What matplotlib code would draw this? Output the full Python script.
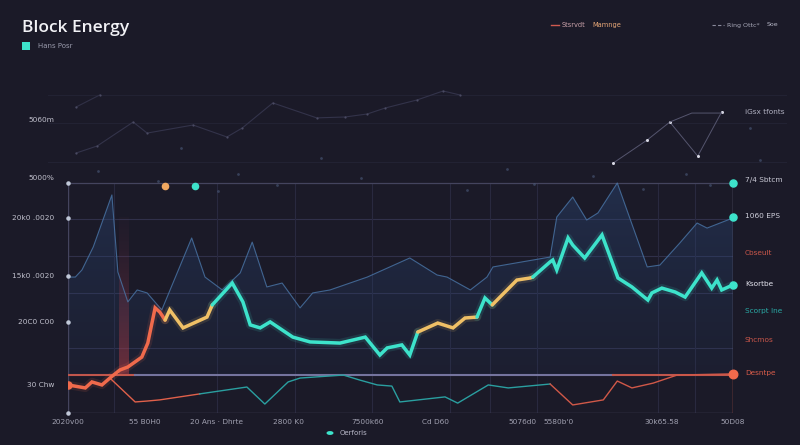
import numpy as np
import matplotlib
matplotlib.use("Agg")
import matplotlib.pyplot as plt
from matplotlib.patches import PathPatch
from matplotlib.colors import LinearSegmentedColormap
import matplotlib.transforms as mtransforms

# ---- data (x: 0..100 across the panel, y: value units, baseline at 16.5) ----
red_x = [0, 2.6, 3.6, 5.1, 6.3, 7.8, 9.0, 11.1, 12.0, 13.1, 13.8, 14.6]
red_y = [12.2, 10.9, 13.5, 12.2, 15.2, 18.7, 20.0, 24.3, 30.4, 45.7, 43.9, 40.4]

gold1_x = [14.6, 15.3, 17.3, 20.9, 21.7]
gold1_y = [40.4, 44.8, 37.0, 41.7, 47.0]

teal1_x = [21.7, 24.7, 26.3, 27.4, 28.9, 30.4, 33.8, 36.4, 40.9, 44.7, 46.9, 48.0, 50.2, 51.4, 52.6]
teal1_y = [47.0, 56.5, 48.3, 38.3, 37.0, 39.6, 33.0, 30.9, 30.4, 33.0, 25.2, 28.3, 29.6, 25.2, 35.2]

gold2_x = [52.6, 55.6, 57.9, 59.7, 61.5]
gold2_y = [35.2, 39.1, 37.0, 41.3, 41.7]

teal2_x = [61.5, 62.7, 63.8]
teal2_y = [41.7, 50.0, 47.0]

gold3_x = [63.8, 67.5, 69.5, 69.9]
gold3_y = [47.0, 57.8, 58.7, 59.1]

teal3_x = [69.9, 72.5, 72.9, 73.5, 75.2, 75.9, 77.7, 80.3, 82.7, 84.8, 87.2, 87.8, 89.3, 91.3, 92.8, 95.3, 96.8, 97.6, 98.3, 100]
teal3_y = [59.1, 65.7, 66.5, 62.2, 76.1, 73.0, 67.4, 77.4, 58.7, 54.8, 49.1, 52.2, 54.3, 52.6, 50.4, 60.9, 54.3, 57.8, 53.5, 55.7]

ridge_x = [0, 1.1, 2.1, 3.8, 6.6, 7.5, 9.0, 10.4, 11.9, 14.1, 18.6, 20.6, 23.2, 25.9, 27.7, 29.9, 32.2,
           34.9, 36.8, 39.4, 45.0, 51.4, 55.5, 57.0, 60.5, 63.0, 63.9, 72.5, 73.5, 75.9, 78.0, 79.7,
           82.6, 84.2, 87.1, 89.0, 92.0, 94.6, 96.1, 100]
ridge_y = [59.1, 59.1, 62.2, 72.2, 94.8, 61.3, 48.3, 53.5, 52.2, 44.8, 76.1, 59.1, 53.5, 60.9, 74.3, 54.8, 56.5,
           45.7, 52.2, 53.5, 59.1, 67.4, 60.0, 59.1, 53.5, 59.1, 63.5, 67.8, 85.2, 93.9, 83.9, 87.0,
           100.0, 87.0, 63.5, 64.3, 73.9, 82.6, 80.4, 84.8]

low_red1_x = [6.3, 10.1, 11.9, 13.8, 16.8, 19.8]
low_red1_y = [15.2, 4.8, 5.2, 5.7, 7.0, 8.3]
low_teal_x = [19.8, 26.9, 29.6, 33.1, 34.9, 41.4, 43.9, 46.5, 48.7, 49.9, 56.7, 58.6, 63.2, 66.2, 72.5]
low_teal_y = [8.3, 11.3, 3.9, 13.5, 15.2, 16.5, 14.3, 12.2, 11.7, 4.8, 7.0, 4.3, 12.2, 10.9, 12.6]
low_red2_x = [72.5, 75.9, 80.5, 82.6, 84.8, 88.0, 91.6, 100]
low_red2_y = [12.6, 3.5, 5.7, 13.9, 10.9, 13.0, 16.5, 17.0]

upper_a_x = [1.2, 4.4, 9.8, 11.9, 18.8, 23.9, 26.2, 30.8, 37.4, 41.7, 45.0, 47.7, 52.5, 56.4, 58.9]
upper_a_y = [113.0, 116.1, 126.5, 121.7, 125.2, 120.0, 123.9, 134.8, 128.3, 128.7, 130.0, 132.6, 136.1, 140.0, 138.3]
upper_b_x = [82.0, 87.1, 90.5, 94.7, 98.3]
upper_b_y = [108.7, 118.7, 126.5, 111.7, 130.9]
upper_c_x = [90.5, 93.8, 98.3]
upper_c_y = [126.5, 130.4, 130.4]
upper_d_x = [1.2, 4.8]
upper_d_y = [133.0, 138.3]

dust_x = [4.5, 13.5, 17.0, 22.5, 25.5, 31.5, 38.0, 44.0, 60.0, 66.0, 70.0, 79.0, 86.5, 93.0, 96.5, 102.5, 104.0]
dust_y = [105.0, 101.0, 115.0, 96.5, 104.0, 99.0, 111.0, 102.0, 97.0, 106.0, 99.5, 103.0, 97.5, 104.0, 99.0, 124.0, 110.0]

ytick_vals = [127.4, 102.6, 85.2, 59.6, 39.6, 12.6]
ytick_labels = ["5060m", "5000%", "20k0 .0020", "15k0 .0020", "20C0 C00", "30 Chw"]
xtick_vals = [0, 11.6, 22.3, 33.1, 45.1, 55.2, 68.3, 73.8, 89.3, 100]
xtick_labels = ["2020v00", "55 B0H0", "20 Ans · Dhrte", "2800 K0", "7500k60", "Cd D60",
                "5076d0", "5580b'0", "30k65.58", "50D08"]
right_vals = [130.9, 101.3, 85.7, 69.6, 56.1, 44.3, 31.7, 17.4]
right_labels = ["iGsx tfonts", "7/4 Sbtcm", "1060 EPS", "Cbseult", "Ksortbe", "Scorpt Ine", "Shcmos", "Desntpe"]
right_colors = ["#b0b0c0", "#c8c8d4", "#d0d0dc", "#c8564a", "#e4e4ee", "#2aa8a4", "#c8564a", "#d85c4a"]

grid_y = [84.3, 68.3, 52.2, 28.3]
grid_x = [6.9, 22.4, 34.1, 45.7, 57.4, 63.5, 70.5, 88.7, 94.3]
upper_grid_y = [138.3, 126.1, 109.1]

BG = "#1b1a28"
TEAL = "#3de3cb"
GOLD = "#f0c066"
RED = "#f06a4c"

fig = plt.figure(figsize=(8, 4.45), dpi=100, facecolor=BG)
ax = fig.add_axes([68 / 800, 1 - 413 / 445, 665 / 800, 328 / 445])
ax.set_facecolor(BG)
for s in ax.spines.values():
    s.set_visible(False)

# grid
for gy in grid_y:
    ax.axhline(gy, xmin=0, xmax=1, color="#30304a", lw=0.8, zorder=0)
for gx in grid_x:
    ax.plot([gx, gx], [0, 100], color="#29293f", lw=0.8, zorder=0)
for gy in upper_grid_y:
    ax.axhline(gy, xmin=-0.03, xmax=1.08, color="#222233", lw=0.8, zorder=0, clip_on=False)

# frame lines
ax.axhline(100, color="#44445e", lw=0.9, zorder=2)
ax.axhline(0, color="#44445c", lw=1.0, zorder=2)
ax.plot([0, 0], [0, 100], color="#44445e", lw=1.0, zorder=2)
ax.plot([100, 100], [16.5, 100], color="#72728e", lw=1.0, zorder=2)
ax.plot([100, 100], [0, 16.5], color="#c85848", lw=1.0, zorder=2)
ax.plot([0, 10], [16.5, 16.5], color="#c0564c", lw=1.5, zorder=3)
ax.plot([10, 82], [16.5, 16.5], color="#75749e", lw=1.5, zorder=3)
ax.plot([82, 100], [16.5, 16.5], color="#c0564c", lw=1.5, zorder=3)

# gradient area under the ridge line
base = 16.5
poly = ax.fill_between(ridge_x, ridge_y, base, color="none")
clip = PathPatch(poly.get_paths()[0], transform=ax.transData, facecolor="none", edgecolor="none")
ax.add_patch(clip)
cmap = LinearSegmentedColormap.from_list("g", [(0.14, 0.25, 0.42, 0.12), (0.18, 0.30, 0.50, 0.40)])
grad = np.linspace(0, 1, 256).reshape(-1, 1)
im = ax.imshow(grad, extent=[0, 100, base, 100], origin="lower", aspect="auto", cmap=cmap, zorder=1)
im.set_clip_path(clip)

# red highlight band
rmap = LinearSegmentedColormap.from_list("r", [(0.75, 0.25, 0.28, 0.5), (0.45, 0.2, 0.3, 0.05)])
ax.imshow(grad, extent=[7.6, 9.1, base, 85], origin="lower", aspect="auto", cmap=rmap, zorder=1)

# ridge and faint upper lines
ax.plot(ridge_x, ridge_y, color="#4a76a8", lw=0.8, alpha=0.8, zorder=3)
ax.plot(upper_a_x, upper_a_y, color="#33334a", lw=0.8, marker="o", ms=1.6, mfc="#4a4a62", mec="none", zorder=2, clip_on=False)
ax.plot(upper_d_x, upper_d_y, color="#303046", lw=0.8, marker="o", ms=1.6, mfc="#4a4a62", mec="none", zorder=2, clip_on=False)
ax.plot(upper_b_x, upper_b_y, color="#55556e", lw=0.7, marker="o", ms=2.2, mfc="#d8d8e4", mec="none", zorder=2)
ax.plot(upper_c_x, upper_c_y, color="#55556e", lw=0.7, zorder=2)
ax.scatter(dust_x, dust_y, s=4, color="#4a5a7a", alpha=0.6, zorder=2, clip_on=False, lw=0)

# lower thin lines
ax.plot(low_red1_x, low_red1_y, color="#e0604a", lw=1.0, zorder=3)
ax.plot(low_teal_x, low_teal_y, color="#2a9fa0", lw=1.0, zorder=3)
ax.plot(low_red2_x, low_red2_y, color="#d05848", lw=1.0, zorder=3)

# main thick line with glow
for xs, ys, c in [(red_x, red_y, RED), (gold1_x, gold1_y, GOLD), (teal1_x, teal1_y, TEAL),
                  (gold2_x, gold2_y, GOLD), (teal2_x, teal2_y, TEAL), (gold3_x, gold3_y, GOLD),
                  (teal3_x, teal3_y, TEAL)]:
    ax.plot(xs, ys, color=c, lw=6, alpha=0.12, solid_capstyle="round", zorder=4)
    ax.plot(xs, ys, color=c, lw=2.5, solid_joinstyle="miter", solid_capstyle="round", zorder=5)
ax.scatter([0], [red_y[0]], s=26, color=RED, zorder=6)

# markers on the right edge and top
ax.scatter([100, 100, 100], [100, 85.2, 55.7], s=26, color=TEAL, zorder=6, clip_on=False)
ax.scatter([100], [17.0], s=38, color=RED, zorder=6, clip_on=False)
ax.scatter([14.6], [98.7], s=20, color="#f0a860", zorder=6)
ax.scatter([19.1], [98.7], s=20, color=TEAL, zorder=6)
ax.scatter([0, 0, 0, 0, 0], [100, 84.8, 59.6, 39.6, 0], s=5, color="#c0c8d8", zorder=6, clip_on=False)

# axes ticks
ax.set_xlim(0, 100)
ax.set_ylim(0, 142.6)
ax.set_yticks(ytick_vals)
ax.set_yticklabels(ytick_labels)
ax.set_xticks(xtick_vals)
ax.set_xticklabels(xtick_labels)
ax.tick_params(axis="y", length=0, pad=10, labelsize=5.3, labelcolor="#c0c0cc")
ax.tick_params(axis="x", length=0, pad=4, labelsize=5.3, labelcolor="#a0a0b0")

trans = mtransforms.blended_transform_factory(ax.transAxes, ax.transData)
for v, lab, c in zip(right_vals, right_labels, right_colors):
    ax.text(1.018, v, lab, transform=trans, fontsize=5.3, color=c, va="center", ha="left")

# titles and legends
fig.text(22 / 800, 1 - 28 / 445, "Block Energy", fontsize=12.5, color="#f2f2f6",
         family="Open Sans", weight="semibold", va="center", ha="left")
fig.patches.append(plt.Rectangle((22 / 800, 1 - 50 / 445), 8 / 800, 8 / 445, transform=fig.transFigure,
                                 facecolor=TEAL, edgecolor="none"))
fig.text(38 / 800, 1 - 46 / 445, "Hans Posr", fontsize=5, color="#9a9aac", va="center")

fig.lines.append(plt.Line2D([551 / 800, 559 / 800], [1 - 25 / 445] * 2, transform=fig.transFigure,
                            color="#d05a50", lw=1.0))
fig.text(562 / 800, 1 - 25 / 445, "Stsrvdt", fontsize=4.8, color="#c8a0a8", va="center")
fig.text(592 / 800, 1 - 25 / 445, "Mamnge", fontsize=4.8, color="#e8a878", va="center")
fig.lines.append(plt.Line2D([712 / 800, 724 / 800], [1 - 25 / 445] * 2, transform=fig.transFigure,
                            color="#8a8a9c", lw=0.8, ls=(0, (3, 2))))
fig.text(727 / 800, 1 - 25 / 445, "Ring Ottc*", fontsize=4.5, color="#a8a8b8", va="center")
fig.text(767 / 800, 1 - 25 / 445, "Soe", fontsize=4.5, color="#b8b8c8", va="center")

fig.patches.append(plt.Circle((330 / 800, 1 - 433 / 445), 3.5 / 800, transform=fig.transFigure,
                              facecolor=TEAL, edgecolor="none"))
fig.text(340 / 800, 1 - 433 / 445, "Oerforis", fontsize=5, color="#b8b8c8", va="center")

fig.savefig("out.png", dpi=100, facecolor=BG)
